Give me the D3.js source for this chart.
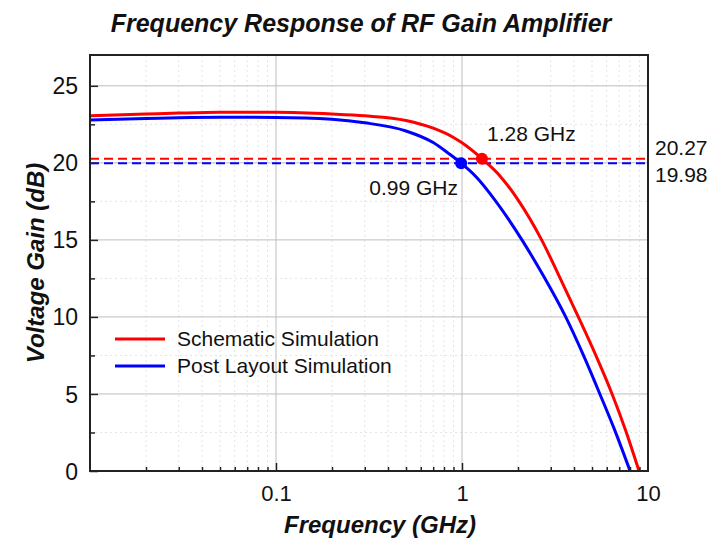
<!DOCTYPE html>
<html>
<head>
<meta charset="utf-8">
<script src="https://cdn.jsdelivr.net/npm/d3@7"></script>
<style>
  html, body { margin: 0; padding: 0; background: #fff; }
  svg { display: block; font-family: Arial, "Liberation Sans", sans-serif; }
</style>
</head>
<body>
<svg id="chart" width="708" height="540"></svg>
<script>
// ---------- data ----------
const freqSchematic = [0.01, 0.02, 0.03, 0.05, 0.1, 0.2, 0.3, 0.5, 0.7, 0.9, 1.0, 1.28, 1.6, 2.0, 2.68, 3.3, 4.22, 5.2, 6.41, 7.6, 8.95];
const gainSchematic = [23.05, 23.17, 23.23, 23.28, 23.28, 23.17, 23.05, 22.75, 22.25, 21.65, 21.3, 20.27, 19.15, 17.6, 15.0, 12.75, 10.0, 7.6, 5.0, 2.6, 0.0];
const freqPostLayout = [0.01, 0.02, 0.03, 0.05, 0.1, 0.2, 0.3, 0.5, 0.7, 0.85, 0.99, 1.2, 1.5, 2.1, 2.7, 3.61, 4.5, 5.51, 6.6, 8.01];
const gainPostLayout = [22.78, 22.88, 22.93, 22.96, 22.95, 22.83, 22.6, 22.07, 21.32, 20.6, 19.98, 19.05, 17.6, 15.0, 12.8, 10.0, 7.5, 5.0, 2.7, 0.0];
const markerFreq = [1.28, 0.99];
const markerGain = [20.27, 19.98];
const markerLabels = ["1.28 GHz", "0.99 GHz"];
const seriesNames = ["Schematic Simulation", "Post Layout Simulation"];
const seriesColors = ["#ff0000", "#0000ff"];
const xTickValues = [0.1, 1, 10];
const xTickLabels = ["0.1", "1", "10"];
const yTickValues = [0, 5, 10, 15, 20, 25];

// ---------- layout ----------
const svg = d3.select("#chart");
const L = 90, R = 648, T = 55, B = 471;
const x = d3.scaleLog().domain([0.01, 10]).range([L, R]);
const y = d3.scaleLinear().domain([0, 27]).range([B, T]);

// minor values
const xMinor = [];
[0.01, 0.1, 1].forEach(d => { for (let k = 2; k <= 9; k++) xMinor.push(d * k); });
const yMinor = [2.5, 7.5, 12.5, 17.5, 22.5];

// grid
const grid = svg.append("g");
grid.selectAll(".xm").data(xMinor).join("line")
  .attr("x1", d => x(d)).attr("x2", d => x(d)).attr("y1", T).attr("y2", B)
  .attr("stroke", "#e4e4e4").attr("stroke-width", 1).attr("stroke-dasharray", "2,3");
grid.selectAll(".ym").data(yMinor).join("line")
  .attr("x1", L).attr("x2", R).attr("y1", d => y(d)).attr("y2", d => y(d))
  .attr("stroke", "#e4e4e4").attr("stroke-width", 1).attr("stroke-dasharray", "2,3");
grid.selectAll(".xM").data([0.1, 1]).join("line")
  .attr("x1", d => x(d)).attr("x2", d => x(d)).attr("y1", T).attr("y2", B)
  .attr("stroke", "#bdbdbd").attr("stroke-width", 1);
grid.selectAll(".yM").data([5, 10, 15, 20, 25]).join("line")
  .attr("x1", L).attr("x2", R).attr("y1", d => y(d)).attr("y2", d => y(d))
  .attr("stroke", "#bdbdbd").attr("stroke-width", 1);

// clip
svg.append("clipPath").attr("id", "clip").append("rect")
  .attr("x", L).attr("y", T).attr("width", R - L).attr("height", B - T);

const plot = svg.append("g").attr("clip-path", "url(#clip)");

// dashed reference lines
markerGain.forEach((g, i) => {
  plot.append("line")
    .attr("x1", L).attr("x2", R).attr("y1", y(g)).attr("y2", y(g))
    .attr("stroke", seriesColors[i]).attr("stroke-width", 2)
    .attr("stroke-dasharray", "9,5");
});

// curves
const line = d3.line().x(d => x(d[0])).y(d => y(d[1])).curve(d3.curveMonotoneX);
const series = [
  d3.zip(freqSchematic, gainSchematic),
  d3.zip(freqPostLayout, gainPostLayout)
];
series.forEach((s, i) => {
  plot.append("path").datum(s).attr("d", line)
    .attr("fill", "none").attr("stroke", seriesColors[i]).attr("stroke-width", 3);
});

// markers
markerFreq.forEach((f, i) => {
  svg.append("circle").attr("cx", x(f)).attr("cy", y(markerGain[i])).attr("r", 6)
    .attr("fill", seriesColors[i]);
});

// axes with inward ticks
const axisColor = "#222";
const xAxis = svg.append("g").attr("transform", `translate(0,${B})`)
  .call(d3.axisBottom(x).tickValues(xTickValues).tickSize(-8).tickFormat((d, i) => xTickLabels[i]));
const xAxisMinor = svg.append("g").attr("transform", `translate(0,${B})`)
  .call(d3.axisBottom(x).tickValues(xMinor).tickSize(-4).tickFormat(""));
const yAxis = svg.append("g").attr("transform", `translate(${L},0)`)
  .call(d3.axisLeft(y).tickValues(yTickValues).tickSize(-8));
const yAxisMinor = svg.append("g").attr("transform", `translate(${L},0)`)
  .call(d3.axisLeft(y).tickValues(yMinor).tickSize(-5).tickFormat(""));
[xAxis, xAxisMinor, yAxis, yAxisMinor].forEach(a => {
  a.select(".domain").remove();
  a.selectAll(".tick line").attr("stroke", axisColor).attr("stroke-width", 1.5);
  a.selectAll("text").attr("fill", "#111").attr("font-size", 22)
    .attr("font-family", "Arial, 'Liberation Sans', sans-serif");
});
xAxis.selectAll("text").attr("y", 14).attr("dy", "0.71em");
yAxis.selectAll("text").attr("x", -12).attr("dy", "0.35em").attr("font-size", 23);
xAxis.selectAll(".tick").filter(d => d === 10).select("line").remove();

// frame
svg.append("rect").attr("x", L).attr("y", T).attr("width", R - L).attr("height", B - T)
  .attr("fill", "none").attr("stroke", axisColor).attr("stroke-width", 2);

// annotations
svg.append("text").attr("x", 487).attr("y", 141).attr("font-size", 21).attr("fill", "#111")
  .text(markerLabels[0]);
svg.append("text").attr("x", 458).attr("y", 195).attr("font-size", 21).attr("fill", "#111")
  .attr("text-anchor", "end").text(markerLabels[1]);
svg.append("text").attr("x", 655).attr("y", 155).attr("font-size", 21).attr("fill", "#111")
  .text(markerGain[0].toFixed(2));
svg.append("text").attr("x", 655).attr("y", 182).attr("font-size", 21).attr("fill", "#111")
  .text(markerGain[1].toFixed(2));

// legend
const legendY = [339, 366];
seriesNames.forEach((n, i) => {
  svg.append("line").attr("x1", 115).attr("x2", 165).attr("y1", legendY[i]).attr("y2", legendY[i])
    .attr("stroke", seriesColors[i]).attr("stroke-width", 3);
  svg.append("text").attr("x", 177).attr("y", legendY[i]).attr("dy", "0.35em")
    .attr("font-size", 21).attr("fill", "#111").text(n);
});

// titles
svg.append("text").attr("x", 361).attr("y", 32).attr("text-anchor", "middle")
  .attr("font-size", 25).attr("font-weight", "bold").attr("font-style", "italic").attr("fill", "#111")
  .text("Frequency Response of RF Gain Amplifier");
svg.append("text").attr("x", 380).attr("y", 533).attr("text-anchor", "middle")
  .attr("font-size", 24).attr("font-weight", "bold").attr("font-style", "italic").attr("fill", "#111")
  .text("Frequency (GHz)");
svg.append("text").attr("transform", `translate(44,${(T + B) / 2}) rotate(-90)`)
  .attr("text-anchor", "middle")
  .attr("font-size", 24).attr("font-weight", "bold").attr("font-style", "italic").attr("fill", "#111")
  .text("Voltage Gain (dB)");
</script>
</body>
</html>
